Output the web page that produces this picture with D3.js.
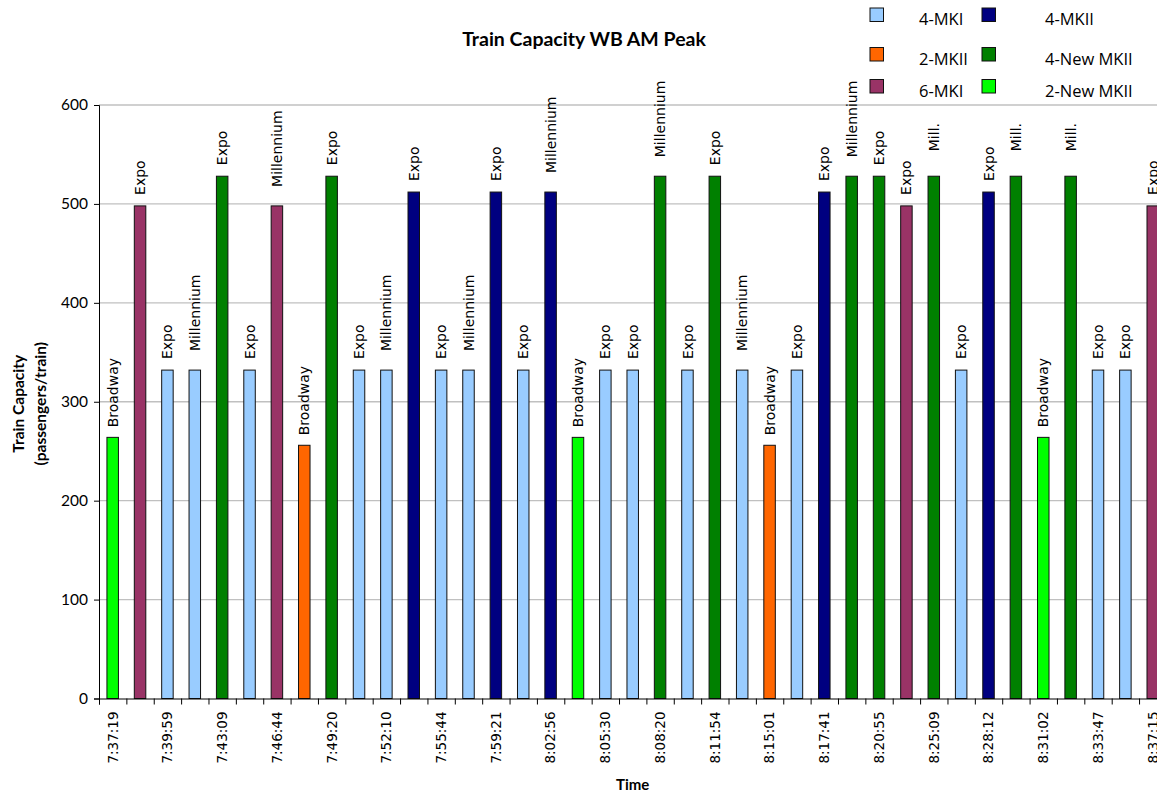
<!DOCTYPE html>
<html>
<head>
<meta charset="utf-8">
<script src="https://cdn.jsdelivr.net/npm/d3@7"></script>
<style>
  html, body { margin: 0; padding: 0; background: #fff; overflow: hidden; }
  svg { display: block; }
</style>
</head>
<body>
<svg id="chart" width="1180" height="793"></svg>
<script>
// Westbound AM peak trains, in departure order
const fleet = [
  "2-New MKII", "6-MKI", "4-MKI", "4-MKI", "4-New MKII", "4-MKI", "6-MKI", "2-MKII",
  "4-New MKII", "4-MKI", "4-MKI", "4-MKII", "4-MKI", "4-MKI", "4-MKII", "4-MKI",
  "4-MKII", "2-New MKII", "4-MKI", "4-MKI", "4-New MKII", "4-MKI", "4-New MKII", "4-MKI",
  "2-MKII", "4-MKI", "4-MKII", "4-New MKII", "4-New MKII", "6-MKI", "4-New MKII", "4-MKI",
  "4-MKII", "4-New MKII", "2-New MKII", "4-New MKII", "4-MKI", "4-MKI", "6-MKI"
];
const lines = [
  "Broadway", "Expo", "Expo", "Millennium", "Expo", "Expo", "Millennium", "Broadway",
  "Expo", "Expo", "Millennium", "Expo", "Expo", "Millennium", "Expo", "Expo",
  "Millennium", "Broadway", "Expo", "Expo", "Millennium", "Expo", "Expo", "Millennium",
  "Broadway", "Expo", "Expo", "Millennium", "Expo", "Expo", "Mill.", "Expo",
  "Expo", "Mill.", "Broadway", "Mill.", "Expo", "Expo", "Expo"
];
const capacity = [
  264, 498, 332, 332, 528, 332, 498, 256,
  528, 332, 332, 512, 332, 332, 512, 332,
  512, 264, 332, 332, 528, 332, 528, 332,
  256, 332, 512, 528, 528, 498, 528, 332,
  512, 528, 264, 528, 332, 332, 498
];
// Every other departure carries a time label on the axis
const timeLabels = [
  "7:37:19", "7:39:59", "7:43:09", "7:46:44", "7:49:20", "7:52:10", "7:55:44",
  "7:59:21", "8:02:56", "8:05:30", "8:08:20", "8:11:54", "8:15:01", "8:17:41",
  "8:20:55", "8:25:09", "8:28:12", "8:31:02", "8:33:47", "8:37:15"
];
const yTicks = [0, 100, 200, 300, 400, 500, 600];

const fleetTypes = ["4-MKI", "4-MKII", "2-MKII", "4-New MKII", "6-MKI", "2-New MKII"];
const fleetColors = ["#99ccff", "#000080", "#ff6600", "#008000", "#993366", "#00ff00"];

const svg = d3.select("#chart");
const n = capacity.length;
const plotLeft = 99, step = 27.37;
const plotRight = plotLeft + n * step;
const plotTop = 105, plotBottom = 698.5;

const x = d3.scaleBand()
  .domain(d3.range(n))
  .range([plotLeft, plotRight])
  .paddingInner(0.58)
  .paddingOuter(0.29);
const xEdge = d3.scaleLinear().domain([0, n]).range([plotLeft, plotRight]);
const y = d3.scaleLinear().domain([0, 600]).range([plotBottom, plotTop]);
const color = d3.scaleOrdinal().domain(fleetTypes).range(fleetColors);

// Horizontal gridlines
svg.append("g")
  .selectAll("line")
  .data(yTicks.filter(d => d > 0))
  .join("line")
  .attr("x1", plotLeft).attr("x2", plotRight)
  .attr("y1", d => y(d)).attr("y2", d => y(d))
  .attr("stroke", "#c0c0c0")
  .attr("stroke-width", 1.3);

// Y axis
const yAxis = svg.append("g")
  .attr("transform", `translate(${plotLeft},0)`)
  .call(d3.axisLeft(y).tickValues(yTicks).tickSize(5).tickPadding(6));
yAxis.select(".domain").attr("stroke", "#000").attr("stroke-width", 1);
yAxis.selectAll(".tick line").attr("stroke", "#000");
yAxis.selectAll("text")
  .attr("font-family", "Lato, 'Open Sans', sans-serif")
  .attr("font-size", 15.5)
  .attr("fill", "#000");

// Bars
svg.append("g")
  .selectAll("rect")
  .data(capacity)
  .join("rect")
  .attr("x", (d, i) => x(i))
  .attr("width", x.bandwidth())
  .attr("y", d => y(d))
  .attr("height", d => y(0) - y(d))
  .attr("fill", (d, i) => color(fleet[i]))
  .attr("stroke", "#111")
  .attr("stroke-width", 1);

// Line name above each bar
const labelGap = { "Expo": 11, "Millennium": 19, "Broadway": 10, "Mill.": 25 };
svg.append("g")
  .selectAll("text")
  .data(capacity)
  .join("text")
  .attr("transform", (d, i) =>
    `translate(${x(i) + x.bandwidth() / 2},${y(d) - labelGap[lines[i]]}) rotate(-90)`)
  .attr("dy", "0.36em")
  .attr("text-anchor", "start")
  .attr("font-family", "'DejaVu Sans', sans-serif")
  .attr("font-size", 14)
  .attr("fill", "#000")
  .text((d, i) => lines[i]);

// X axis: tick marks on category boundaries
const xAxis = svg.append("g")
  .attr("transform", `translate(0,${plotBottom})`)
  .call(d3.axisBottom(xEdge).tickValues(d3.range(n + 1)).tickSize(6).tickFormat(""));
xAxis.select(".domain").attr("stroke", "#000");
xAxis.selectAll(".tick line").attr("stroke", "#000");

// Time labels under alternate bars
const xLabels = svg.append("g")
  .attr("transform", `translate(0,${plotBottom})`)
  .call(d3.axisBottom(x)
    .tickValues(d3.range(0, n, 2))
    .tickSize(0)
    .tickFormat(i => timeLabels[i / 2]));
xLabels.select(".domain").remove();
xLabels.selectAll("text")
  .attr("transform", "translate(0,13) rotate(-90)")
  .attr("y", 0)
  .attr("dy", "0.36em")
  .attr("text-anchor", "end")
  .attr("font-family", "'DejaVu Sans', sans-serif")
  .attr("font-size", 13.5)
  .attr("fill", "#000");

// Titles
svg.append("text")
  .attr("x", 584).attr("y", 45.5)
  .attr("text-anchor", "middle")
  .attr("font-family", "Lato, sans-serif")
  .attr("font-weight", "bold")
  .attr("font-size", 19.5)
  .text("Train Capacity WB AM Peak");

svg.append("text")
  .attr("x", (plotLeft + plotRight) / 2).attr("y", 790)
  .attr("text-anchor", "middle")
  .attr("font-family", "Lato, sans-serif")
  .attr("font-weight", "bold")
  .attr("font-size", 15)
  .text("Time");

const yTitle = svg.append("text")
  .attr("transform", `translate(0,${(plotTop + plotBottom) / 2 + 2}) rotate(-90)`)
  .attr("text-anchor", "middle")
  .attr("font-family", "Lato, sans-serif")
  .attr("font-weight", "bold")
  .attr("font-size", 15.5);
yTitle.append("tspan").attr("x", 0).attr("y", 24).text("Train Capacity");
yTitle.append("tspan").attr("x", 0).attr("y", 45.5).text("(passengers/train)");

// Legend: two columns of three
const legendCols = [870, 982];
const legendTextX = [919, 1045];
const legendRows = [8, 47.5, 79.5];
const legend = svg.append("g");
fleetTypes.forEach((t, k) => {
  const col = k % 2, row = Math.floor(k / 2);
  legend.append("rect")
    .attr("x", legendCols[col]).attr("y", legendRows[row])
    .attr("width", 13.5).attr("height", 13.5)
    .attr("fill", color(t))
    .attr("stroke", "#111").attr("stroke-width", 1);
  legend.append("text")
    .attr("x", legendTextX[col]).attr("y", legendRows[row] + 17)
    .attr("font-family", "'Open Sans', sans-serif")
    .attr("font-size", 16.5)
    .attr("fill", "#000")
    .text(t);
});
</script>
</body>
</html>
